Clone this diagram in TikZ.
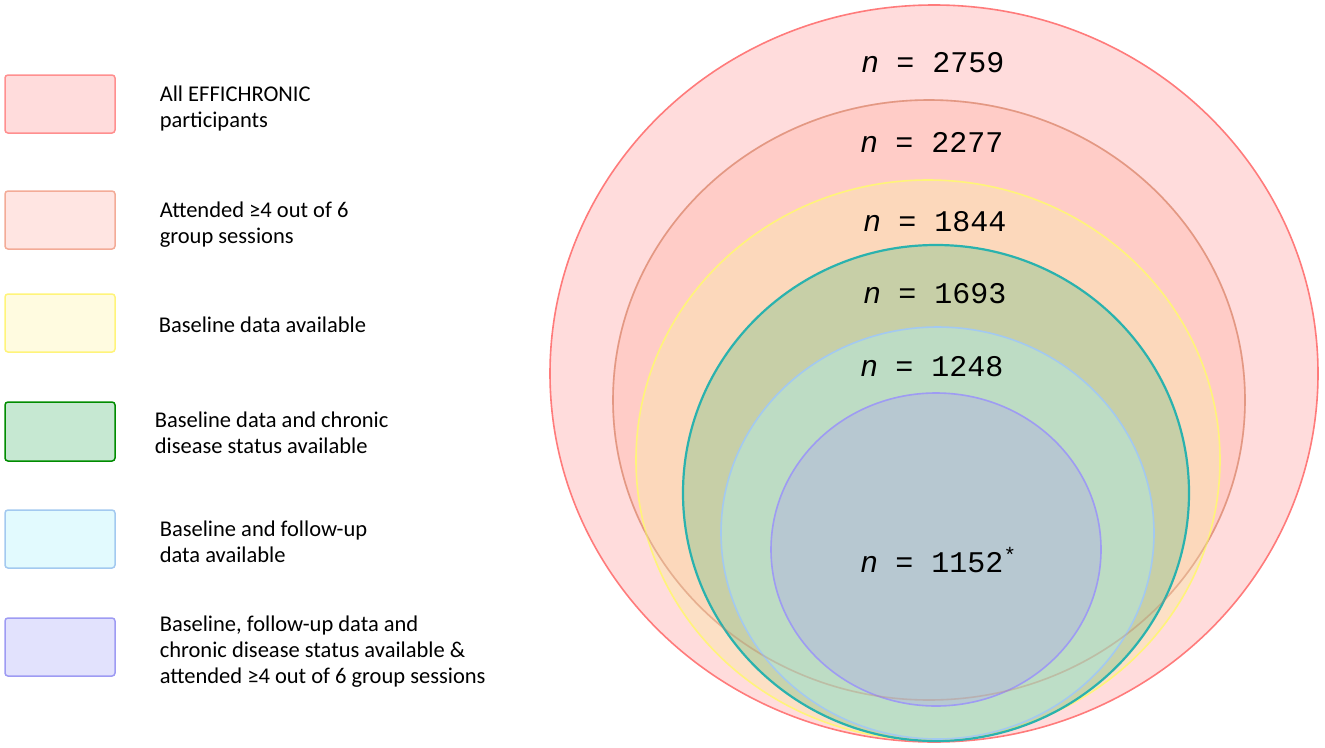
\documentclass[tikz,border=0pt]{standalone}
\usepackage{fontspec}
\setmainfont{Carlito}
\setsansfont{Liberation Sans}
\setmonofont{Liberation Mono}
\usepackage{tikz}
\usepackage{xcolor}

\definecolor{allfill}{HTML}{FFDCDC}
\definecolor{allline}{HTML}{FF7B7B}
\definecolor{attfill}{HTML}{FFBEB4}
\definecolor{attline}{HTML}{F2A28C}
\definecolor{basefill}{HTML}{FBE5B0}
\definecolor{baseline}{HTML}{FFF47A}
\definecolor{chrfill}{HTML}{93C794}
\definecolor{chrline}{HTML}{2AB2AE}
\definecolor{fupfill}{HTML}{B4EAE2}
\definecolor{fupline}{HTML}{A3C9F0}
\definecolor{compfill}{HTML}{B2B5DF}
\definecolor{compline}{HTML}{9E9BF3}

\begin{document}
\begin{tikzpicture}[x=1pt,y=-1pt,line width=1.6pt,
    legbox/.style={rounded corners=3pt, line width=1.5pt},
    legtext/.style={anchor=base west, align=left, inner sep=0pt,
        font=\fontsize{22.5}{26}\selectfont},
    nlabel/.style={anchor=base west, inner sep=0pt,
        font=\fontsize{30}{36}\selectfont\ttfamily}]
    \useasboundingbox (0,0) rectangle (1325,747);

    % legend (base = last line)
    \filldraw[legbox, fill=allfill, draw=allline!85!white] (5,75) rectangle (115,133);
    \node[legtext] (allpart) at (159,127) {All EFFICHRONIC\\participants};
    \filldraw[legbox, fill={rgb,255:red,255;green,229;blue,226}, draw=attline!90!white] (5,191) rectangle (115,249);
    \node[legtext] (attended) at (159,243) {Attended ≥4 out of 6\\group sessions};
    \filldraw[legbox, fill={rgb,255:red,255;green,251;blue,224}, draw=baseline] (5,294) rectangle (115,352);
    \node[legtext] (basedata) at (158,332) {Baseline data available};
    \filldraw[legbox, fill={rgb,255:red,198;green,232;blue,210}, draw=green!55!black] (5,402) rectangle (115,461);
    \node[legtext] (chronic) at (154,453) {Baseline data and chronic\\disease status available};
    \filldraw[legbox, fill={rgb,255:red,226;green,250;blue,254}, draw=fupline] (5,510) rectangle (115,568);
    \node[legtext] (followup) at (159,562) {Baseline and follow-up\\data available};
    \filldraw[legbox, fill={rgb,255:red,226;green,226;blue,253}, draw=compline] (5,618) rectangle (115,676);
    \node[legtext] (complete) at (159,683) {Baseline, follow-up data and\\chronic disease status available \&\\attended ≥4 out of 6 group sessions};

    % nested samples
    \filldraw[fill=allfill, draw=allline] (934,373.5) ellipse [x radius=384pt, y radius=368.5pt];
    \filldraw[fill=attfill, fill opacity=.5, draw=attline] (929,400) ellipse [x radius=316pt, y radius=300pt];
    \filldraw[fill=basefill, fill opacity=.5, draw=baseline] (928,460) ellipse [x radius=292pt, y radius=280pt];
    \filldraw[fill=chrfill, fill opacity=.5, draw=chrline, line width=2.2pt] (936,493) ellipse [x radius=253pt, y radius=248pt];
    \filldraw[fill=fupfill, fill opacity=.5, draw=fupline] (937.5,533) ellipse [x radius=216.5pt, y radius=206pt];
    \filldraw[fill=compfill, fill opacity=.5, draw=compline] (936,549.5) ellipse [x radius=165pt, y radius=156.5pt];
    \draw[draw=attline!80!black, draw opacity=.3] (929,400) ellipse [x radius=316pt, y radius=300pt];

    \node[nlabel] (n2759) at (861,72) {\textsf{\textit{n}} = 2759};
    \node[nlabel] (n2277) at (860,152.5) {\textsf{\textit{n}} = 2277};
    \node[nlabel] (n1844) at (863,231) {\textsf{\textit{n}} = 1844};
    \node[nlabel] (n1693) at (863,303) {\textsf{\textit{n}} = 1693};
    \node[nlabel] (n1248) at (860,376) {\textsf{\textit{n}} = 1248};
    \node[nlabel] (n1152) at (860,572) {\textsf{\textit{n}} = 1152\textsuperscript{*}};
\end{tikzpicture}
\end{document}
